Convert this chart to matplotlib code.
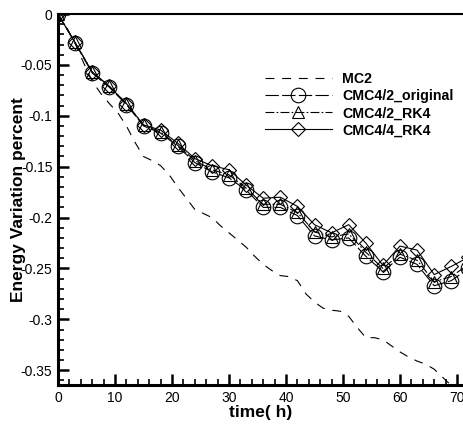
import numpy as np
import matplotlib
matplotlib.use('Agg')
import matplotlib.pyplot as plt
from matplotlib.ticker import MultipleLocator, FixedLocator, FixedFormatter

plt.rcParams['font.family'] = ['Liberation Sans', 'DejaVu Sans']

## marker series, every 3 hours
t_mark = [0, 3, 6, 9, 12, 15, 18, 21, 24, 27, 30, 33, 36, 39, 42, 45, 48, 51, 54, 57, 60, 63, 66, 69, 72]
cmc42_orig = [0, -0.0285, -0.058, -0.072, -0.089, -0.110, -0.117, -0.130, -0.146, -0.155, -0.161, -0.173,
              -0.190, -0.190, -0.198, -0.218, -0.222, -0.220, -0.238, -0.253, -0.239, -0.246, -0.267, -0.262, -0.250]
cmc42_rk4 = [0, -0.028, -0.057, -0.071, -0.088, -0.109, -0.116, -0.129, -0.144, -0.153, -0.158, -0.171,
             -0.187, -0.187, -0.195, -0.214, -0.219, -0.216, -0.234, -0.250, -0.236, -0.242, -0.263, -0.258, -0.246]
cmc44_rk4 = [0, -0.028, -0.057, -0.071, -0.088, -0.109, -0.114, -0.127, -0.142, -0.149, -0.153, -0.168,
             -0.181, -0.180, -0.189, -0.207, -0.215, -0.207, -0.225, -0.247, -0.228, -0.232, -0.256, -0.248, -0.239]

## MC2 dashed curve
t_mc2 = [0, 1.5, 3, 4.5, 6, 7.5, 9, 10.5, 12, 13.5, 15, 16.5, 18, 19.5, 21, 22.5, 24, 25.5, 27, 28.5, 30,
         31.5, 33, 34.5, 36, 37.5, 39, 40.5, 42, 43.5, 45, 46.5, 48, 49.5, 51, 52.5, 54, 55.5, 57, 58.5,
         60, 61.5, 63, 64.5, 66, 67.5, 69, 70.5]
mc2 = [0, -0.013, -0.029, -0.048, -0.066, -0.078, -0.088, -0.097, -0.110, -0.126, -0.140, -0.144, -0.149,
       -0.158, -0.170, -0.181, -0.192, -0.196, -0.200, -0.208, -0.215, -0.222, -0.229, -0.238, -0.246,
       -0.252, -0.257, -0.258, -0.262, -0.275, -0.283, -0.289, -0.291, -0.292, -0.297, -0.308, -0.318,
       -0.318, -0.320, -0.326, -0.332, -0.337, -0.341, -0.344, -0.349, -0.357, -0.365, -0.375]

ytick_vals = [0, -0.05, -0.1, -0.15, -0.2, -0.25, -0.3, -0.35]
ytick_labels = ['0', '-0.05', '-0.1', '-0.15', '-0.2', '-0.25', '-0.3', '-0.35']

fig = plt.figure(figsize=(4.63, 4.25), dpi=100)
ax = fig.add_axes([58 / 463, 40 / 425, 1 - 58 / 463, 371 / 425])

lw = 0.8
ax.plot(t_mc2, mc2, color='black', lw=lw, linestyle=(0, (8, 7)), label='MC2')
ax.plot(t_mark, cmc42_orig, color='black', lw=lw, linestyle=(0, (12, 3)), marker='o', ms=10.5,
        mfc='none', mec='black', mew=0.8, label='CMC4/2_original')
ax.plot(t_mark, cmc42_rk4, color='black', lw=lw, linestyle=(0, (8, 2, 1.5, 2)), marker='^', ms=8,
        mfc='none', mec='black', mew=0.8, label='CMC4/2_RK4')
ax.plot(t_mark, cmc44_rk4, color='black', lw=lw, linestyle='-', marker='D', ms=7.5,
        mfc='none', mec='black', mew=0.8, label='CMC4/4_RK4')

ax.set_xlim(0, 405 / 5.7)
ax.set_ylim(-0.3645, 0)

ax.spines['right'].set_visible(False)
ax.spines['left'].set_linewidth(2.2)
ax.spines['bottom'].set_linewidth(2.2)
ax.spines['top'].set_linewidth(1.5)

ax.xaxis.set_major_locator(MultipleLocator(10))
ax.xaxis.set_minor_locator(MultipleLocator(2))
ax.yaxis.set_major_locator(FixedLocator(ytick_vals))
ax.yaxis.set_major_formatter(FixedFormatter(ytick_labels))
ax.yaxis.set_minor_locator(MultipleLocator(0.01))
ax.tick_params(which='both', direction='in', top=False, right=False, labelsize=10, colors='black')
ax.tick_params(which='major', length=8, width=1.8, pad=4)
ax.tick_params(which='minor', length=4.5, width=1.2)

ax.set_xlabel('time( h)', fontsize=12.5, fontweight='bold', labelpad=0)
ax.set_ylabel('Energy Variation percent', fontsize=12.5, fontweight='bold')
ax.yaxis.set_label_coords(-0.078, 0.5)

ax.legend(loc='upper left', bbox_to_anchor=(265 / 463, 1 - 72 / 425), bbox_transform=fig.transFigure,
          frameon=False, prop={'weight': 'bold', 'size': 10.2}, handlelength=4.7,
          handletextpad=0.75, labelspacing=0.22, borderpad=0, borderaxespad=0)

fig.savefig('out.png', dpi=100)
